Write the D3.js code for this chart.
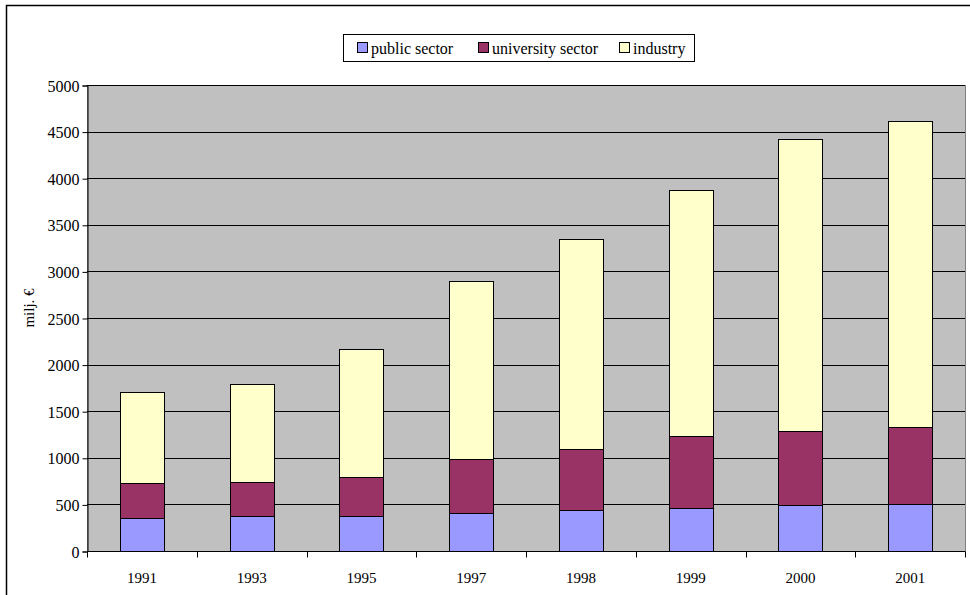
<!DOCTYPE html>
<head>
<meta charset="utf-8">
<style>
body { margin: 0; background: #fff; }
svg text { font-family: "Liberation Serif", serif !important; font-size: 15px; fill: #000; }
svg .ytick text, svg .legend text { font-size: 16px; }
.grid line { stroke: #000; stroke-width: 1px; }
.bar { stroke: #000; stroke-width: 1px; }
</style>
</head>
<body>
<svg width="970" height="595"></svg>
<script src="https://cdn.jsdelivr.net/npm/d3@7"></script>
<script>

var years = ["1991", "1993", "1995", "1997", "1998", "1999", "2000", "2001"];
var publicSector = [351, 379, 375, 404, 440, 465, 494, 500];
var universitySector = [382, 365, 419, 583, 658, 766, 794, 834];
var industry = [970, 1048, 1373, 1910, 2253, 2642, 3129, 3280];
var yTicks = [0, 500, 1000, 1500, 2000, 2500, 3000, 3500, 4000, 4500, 5000];

var seriesNames = ["public sector", "university sector", "industry"];
var colors = ["#9999FF", "#993366", "#FFFFCC"];

var rows = years.map(function(y, i) {
  return { year: y, "public sector": publicSector[i], "university sector": universitySector[i], "industry": industry[i] };
});

var svg = d3.select("svg");

// outer chart frame
svg.append("rect")
    .attr("x", 6.5).attr("y", 5.5)
    .attr("width", 980).attr("height", 600)
    .attr("fill", "#fff").attr("stroke", "#000").attr("stroke-width", 1.5);

var plotL = 87, plotR = 965, plotT = 85, plotB = 551;

var x = d3.scaleBand().domain(years).range([plotL, plotR]).paddingInner(0.6).paddingOuter(0.3);
var y = d3.scaleLinear().domain([0, 5000]).range([plotB, plotT]);

svg.append("rect")
    .attr("x", plotL + 0.5).attr("y", plotT + 0.5)
    .attr("width", plotR - plotL).attr("height", plotB - plotT)
    .attr("fill", "#C0C0C0").attr("stroke", "#808080").attr("stroke-width", 1);

svg.append("g").attr("class", "grid")
  .selectAll("line")
  .data(yTicks.slice(1))
  .enter().append("line")
    .attr("x1", plotL).attr("x2", plotR)
    .attr("y1", function(d) { return Math.round(y(d)) + 0.5; })
    .attr("y2", function(d) { return Math.round(y(d)) + 0.5; });

var stack = d3.stack().keys(seriesNames);
var layers = stack(rows);

svg.append("g").selectAll("g")
  .data(layers)
  .enter().append("g")
    .attr("fill", function(d, i) { return colors[i]; })
  .selectAll("rect")
  .data(function(d) { return d; })
  .enter().append("rect")
    .attr("class", "bar")
    .attr("x", function(d) { return Math.round(x(d.data.year)) + 0.5; })
    .attr("width", Math.round(x.bandwidth()))
    .attr("y", function(d) { return Math.round(y(d[1])) + 0.5; })
    .attr("height", function(d) { return Math.round(y(d[0])) - Math.round(y(d[1])); });

// y axis
var yAxis = svg.append("g")
    .attr("class", "ytick")
    .attr("transform", "translate(" + (plotL + 0.5) + ",0.5)")
    .call(d3.axisLeft(y).tickValues(yTicks).tickSize(5).tickPadding(3).tickFormat(d3.format("d")));
yAxis.select(".domain").attr("stroke", "#000");
yAxis.selectAll("text").attr("dy", "0.35em");

// x axis: ticks between categories
var xg = svg.append("g")
    .attr("transform", "translate(0," + (plotB + 0.5) + ")");
xg.append("line").attr("x1", plotL).attr("x2", plotR).attr("stroke", "#000");
xg.selectAll(".tk")
  .data(d3.range(years.length + 1))
  .enter().append("line")
    .attr("x1", function(i) { return Math.round(plotL + i * (plotR - plotL) / years.length) + 0.5; })
    .attr("x2", function(i) { return Math.round(plotL + i * (plotR - plotL) / years.length) + 0.5; })
    .attr("y1", 0).attr("y2", 6)
    .attr("stroke", "#000");
xg.selectAll("text")
  .data(years)
  .enter().append("text")
    .attr("x", function(d) { return x(d) + x.bandwidth() / 2; })
    .attr("y", 31)
    .attr("text-anchor", "middle")
    .text(function(d) { return d; });

svg.append("text")
    .attr("transform", "translate(34,308) rotate(-90)")
    .attr("text-anchor", "middle")
    .text("milj. €");

// legend
var legend = svg.append("g").attr("class", "legend");
legend.append("rect")
    .attr("x", 343.5).attr("y", 34.5).attr("width", 351).attr("height", 27)
    .attr("fill", "#fff").attr("stroke", "#000");
var legX = [357, 478, 619];
var item = legend.selectAll(".item")
  .data(seriesNames)
  .enter().append("g")
    .attr("transform", function(d, i) { return "translate(" + legX[i] + ",48)"; });
item.append("rect")
    .attr("x", 0.5).attr("y", -5.5).attr("width", 10).attr("height", 10)
    .attr("fill", function(d, i) { return colors[i]; })
    .attr("stroke", "#000");
item.append("text")
    .attr("x", 14).attr("dy", "0.35em")
    .text(function(d) { return d; });

</script>
</body>
